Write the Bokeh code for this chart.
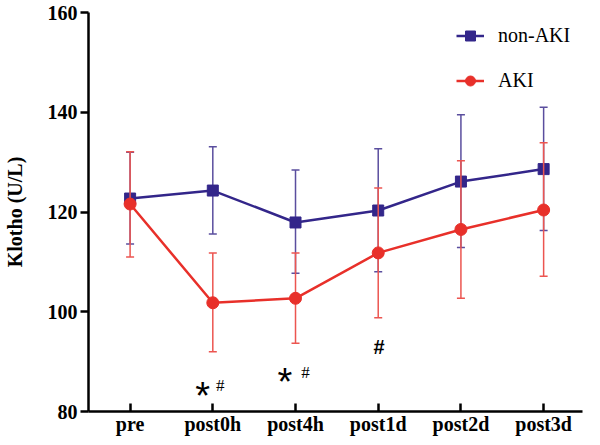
from bokeh.plotting import figure
from bokeh.models import ColumnDataSource, FixedTicker, Legend, LegendItem, Range1d
from bokeh.core.properties import value
from bokeh.embed import file_html
from bokeh.resources import INLINE

categories = ["pre", "post0h", "post4h", "post1d", "post2d", "post3d"]
non_aki_mean = [122.7, 124.3, 117.9, 120.3, 126.1, 128.6]
non_aki_upper = [132.0, 133.1, 128.4, 132.7, 139.5, 141.0]
non_aki_lower = [113.6, 115.6, 107.7, 108.0, 112.9, 116.3]
aki_mean = [121.6, 101.8, 102.7, 111.8, 116.5, 120.4]
aki_upper = [132.1, 111.8, 111.8, 124.8, 130.3, 133.9]
aki_lower = [111.0, 92.0, 93.7, 98.8, 102.7, 107.1]
y_ticks = [80, 100, 120, 140, 160]

xs = list(range(len(categories)))
BLUE = "#33268a"
BLUE_ERR = "#5a4e9e"
RED = "#e8302a"
RED_ERR = "#ec5550"
SERIF = "Liberation Serif"

p = figure(width=584, height=437, output_backend="svg", toolbar_location=None,
           x_range=Range1d(-0.503, 5.47), y_range=Range1d(80, 160),
           min_border_left=74, min_border_right=2, min_border_top=12, min_border_bottom=10)
p.outline_line_color = None
p.grid.visible = False
p.background_fill_color = "white"

src_n = ColumnDataSource(dict(x=xs, m=non_aki_mean, u=non_aki_upper, l=non_aki_lower))
src_a = ColumnDataSource(dict(x=xs, m=aki_mean, u=aki_upper, l=aki_lower))

# non-AKI
p.segment(x0="x", y0="l", x1="x", y1="u", source=src_n, line_color=BLUE_ERR, line_width=1.5)
p.scatter(x="x", y="u", source=src_n, marker="dash", size=8, line_color=BLUE_ERR, line_width=1.5)
p.scatter(x="x", y="l", source=src_n, marker="dash", size=8, line_color=BLUE_ERR, line_width=1.5)
ln_n = p.line(x="x", y="m", source=src_n, line_color=BLUE, line_width=2.5)
mk_n = p.scatter(x="x", y="m", source=src_n, marker="square", size=11, fill_color=BLUE, line_color=BLUE)

# AKI
p.segment(x0="x", y0="l", x1="x", y1="u", source=src_a, line_color=RED_ERR, line_width=1.5)
p.scatter(x="x", y="u", source=src_a, marker="dash", size=8, line_color=RED_ERR, line_width=1.5)
p.scatter(x="x", y="l", source=src_a, marker="dash", size=8, line_color=RED_ERR, line_width=1.5)
ln_a = p.line(x="x", y="m", source=src_a, line_color=RED, line_width=2.5)
mk_a = p.scatter(x="x", y="m", source=src_a, marker="circle", size=12, fill_color=RED, line_color=RED)

# significance marks
p.text(x=[0.878, 1.873], y=[83.2, 86.0], text=["*", "*"], text_font=value("Liberation Sans"),
       text_font_size="38px", text_align="center", text_baseline="middle", text_color="black")
p.text(x=[1.09, 2.12], y=[85.3, 87.8], text=["#", "#"], text_font=value(SERIF),
       text_font_size="17px", text_align="center", text_baseline="middle", text_color="black")
p.text(x=[3.01], y=[92.9], text=["#"], text_font=value("Liberation Sans"), text_font_style="bold",
       text_font_size="20px", text_align="center", text_baseline="middle", text_color="black")

# axes
p.xaxis.ticker = FixedTicker(ticks=xs)
p.xaxis.major_label_overrides = {i: c for i, c in enumerate(categories)}
p.yaxis.ticker = FixedTicker(ticks=y_ticks)
for ax in (p.xaxis[0], p.yaxis[0]):
    ax.axis_line_width = 2.5
    ax.axis_line_color = "black"
    ax.major_tick_line_width = 2.5
    ax.major_tick_line_color = "black"
    ax.minor_tick_line_color = None
    ax.major_label_text_font = SERIF
    ax.major_label_text_font_style = "bold"
    ax.major_label_text_font_size = "20px"
    ax.major_label_text_color = "black"
p.xaxis.major_tick_in = 8
p.xaxis.major_tick_out = 0
p.xaxis.major_label_standoff = 1
p.yaxis.major_tick_in = 0
p.yaxis.major_tick_out = 8
p.yaxis.major_label_standoff = 3
p.yaxis.axis_label = "Klotho (U/L)"
p.yaxis.axis_label_text_font = SERIF
p.yaxis.axis_label_text_font_style = "bold"
p.yaxis.axis_label_text_font_size = "20px"
p.yaxis.axis_label_text_color = "black"
p.yaxis.axis_label_standoff = 19

legend = Legend(items=[LegendItem(label="non-AKI", renderers=[ln_n, mk_n]),
                       LegendItem(label="AKI", renderers=[ln_a, mk_a])],
                location=(368, 318))
legend.border_line_color = None
legend.background_fill_alpha = 0
legend.label_text_font = SERIF
legend.label_text_font_size = "20px"
legend.label_text_color = "black"
legend.glyph_width = 28
legend.glyph_height = 25
legend.label_height = 25
legend.label_standoff = 14
legend.spacing = 20
legend.padding = 0
legend.margin = 0
p.add_layout(legend)

open("out.html", "w").write(file_html(p, INLINE))
